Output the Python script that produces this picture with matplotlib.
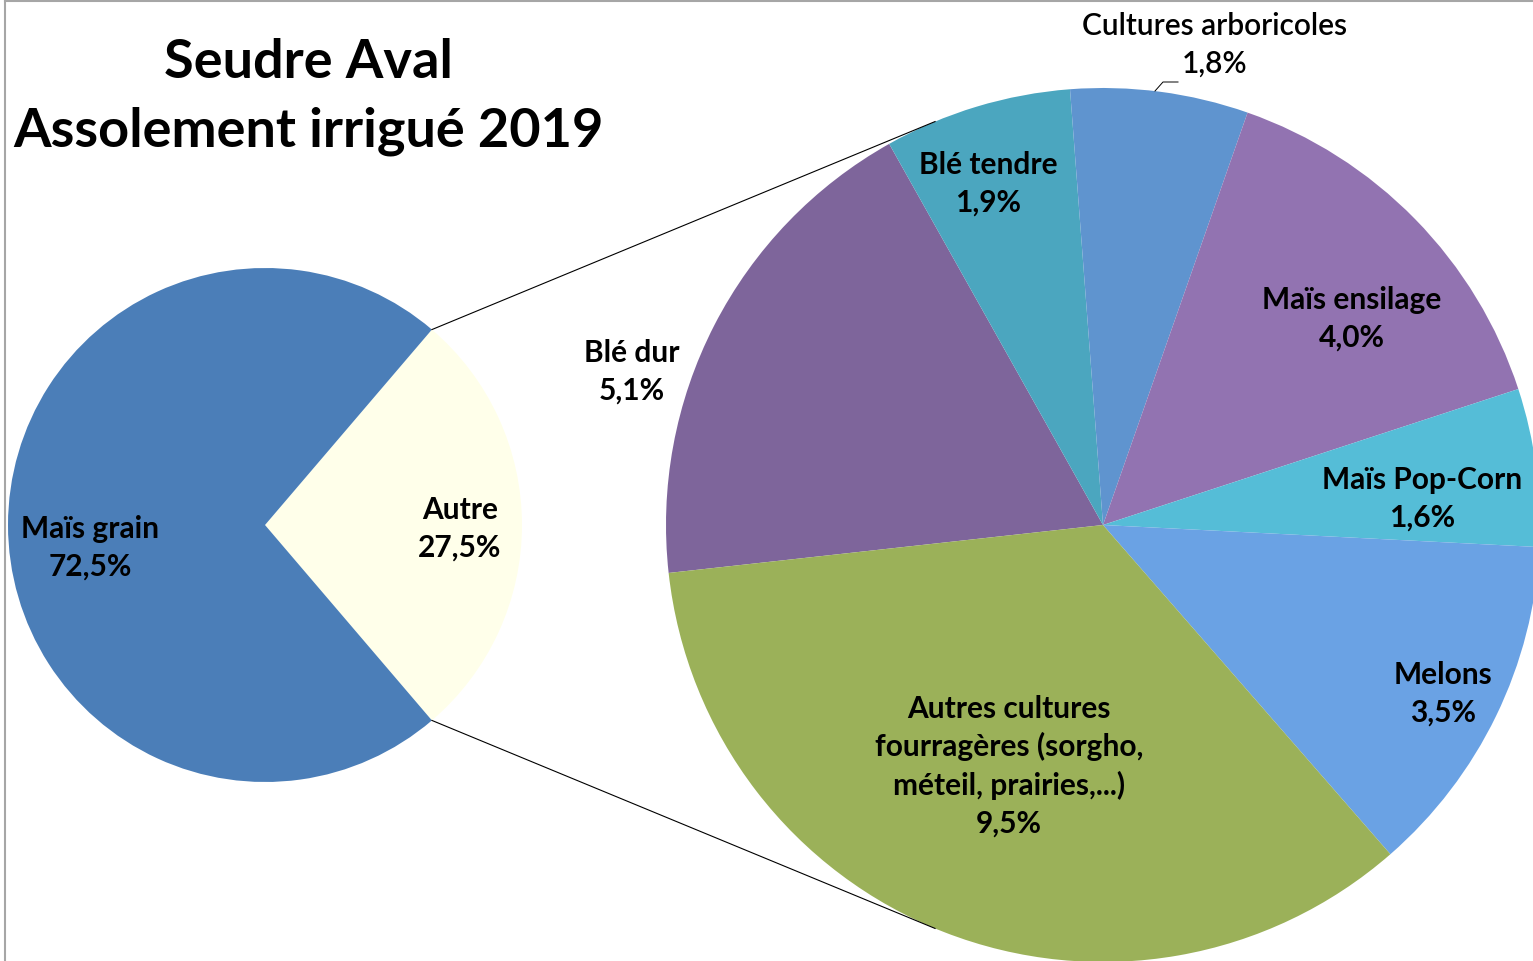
import numpy as np
import matplotlib
matplotlib.use("Agg")
import matplotlib.pyplot as plt

# main pie
main_labels = ["Maïs grain", "Autre"]
main_values = [72.5, 27.5]
main_colors = ["#4B7EB8", "#FFFFEA"]

# detail of "Autre" (clockwise from Blé dur)
sub_labels = ["Blé dur", "Blé tendre", "Cultures arboricoles", "Maïs ensilage",
              "Maïs Pop-Corn", "Melons",
              "Autres cultures\nfourragères (sorgho,\nméteil, prairies,...)"]
sub_values = [5.1, 1.9, 1.8, 4.0, 1.6, 3.5, 9.5]
sub_colors = ["#7E659B", "#4BA6BF", "#5F94CF", "#9273B1", "#55BDD7", "#6AA2E4", "#9BB159"]

W, H = 1533, 961
fig = plt.figure(figsize=(W / 100, H / 100), dpi=100)
ax = fig.add_axes([0, 0, 1, 1])
ax.set_aspect("equal")

plt.rcParams["font.family"] = ["Lato", "DejaVu Sans"]

c1, r1 = (265, H - 525), 257
c2, r2 = (1103, H - 525), 437

half = main_values[1] / sum(main_values) * 180
ax.pie(main_values[::-1], colors=main_colors[::-1], startangle=-half,
       center=c1, radius=r1, frame=True, wedgeprops=dict(linewidth=0))
ax.pie(sub_values, colors=sub_colors, startangle=186.3, counterclock=False,
       center=c2, radius=r2, frame=True, wedgeprops=dict(linewidth=0))
ax.set_xlim(0, W)
ax.set_ylim(0, H)
ax.axis("off")

# connector lines
a1 = np.deg2rad(half)
a2 = np.deg2rad(112.6)
for s in (1, -1):
    ax.plot([c1[0] + r1 * np.cos(a1), c2[0] + r2 * np.cos(a2)],
            [c1[1] + s * r1 * np.sin(a1), c2[1] + s * r2 * np.sin(a2)],
            color="black", lw=0.8, zorder=3)

lab = dict(ha="center", va="center", fontsize=21.5,
           linespacing=1.4, zorder=4)

def pct(v):
    return f"{v:.1f}%".replace(".", ",")

ax.text(90, H - 548, f"{main_labels[0]}\n{pct(main_values[0])}", fontweight="bold", **lab)
ax.text(460, H - 529, f"{main_labels[1]}\n{pct(main_values[1])}", fontweight="bold", **lab)

sub_pos = [(632, 372), (988, 184), (1215, 45), (1352, 319),
           (1422, 499), (1443, 694), (1009, 766)]
for name, v, (x, y) in zip(sub_labels, sub_values, sub_pos):
    # the outside label of the thin slice is a bit lighter
    w = "semibold" if name == "Cultures arboricoles" else "bold"
    ax.text(x, H - y, f"{name}\n{pct(v)}", fontweight=w, **lab)

# leader for small slice label
ax.plot([1155, 1163, 1178], [H - 91, H - 82, H - 82], color="black", lw=0.7, zorder=4)

ax.text(308, H - 62, "Seudre Aval", ha="center", va="center",
        fontsize=39, fontweight="bold")
ax.text(308, H - 131, "Assolement irrigué 2019", ha="center", va="center",
        fontsize=39, fontweight="bold")

# chart frame (left and top edges visible)
ax.plot([5, 5], [0, H - 1], color="#A6A6A6", lw=1.5, zorder=5)
ax.plot([5, W], [H - 1, H - 1], color="#A6A6A6", lw=1.5, zorder=5)

fig.savefig("out.png", dpi=100)
